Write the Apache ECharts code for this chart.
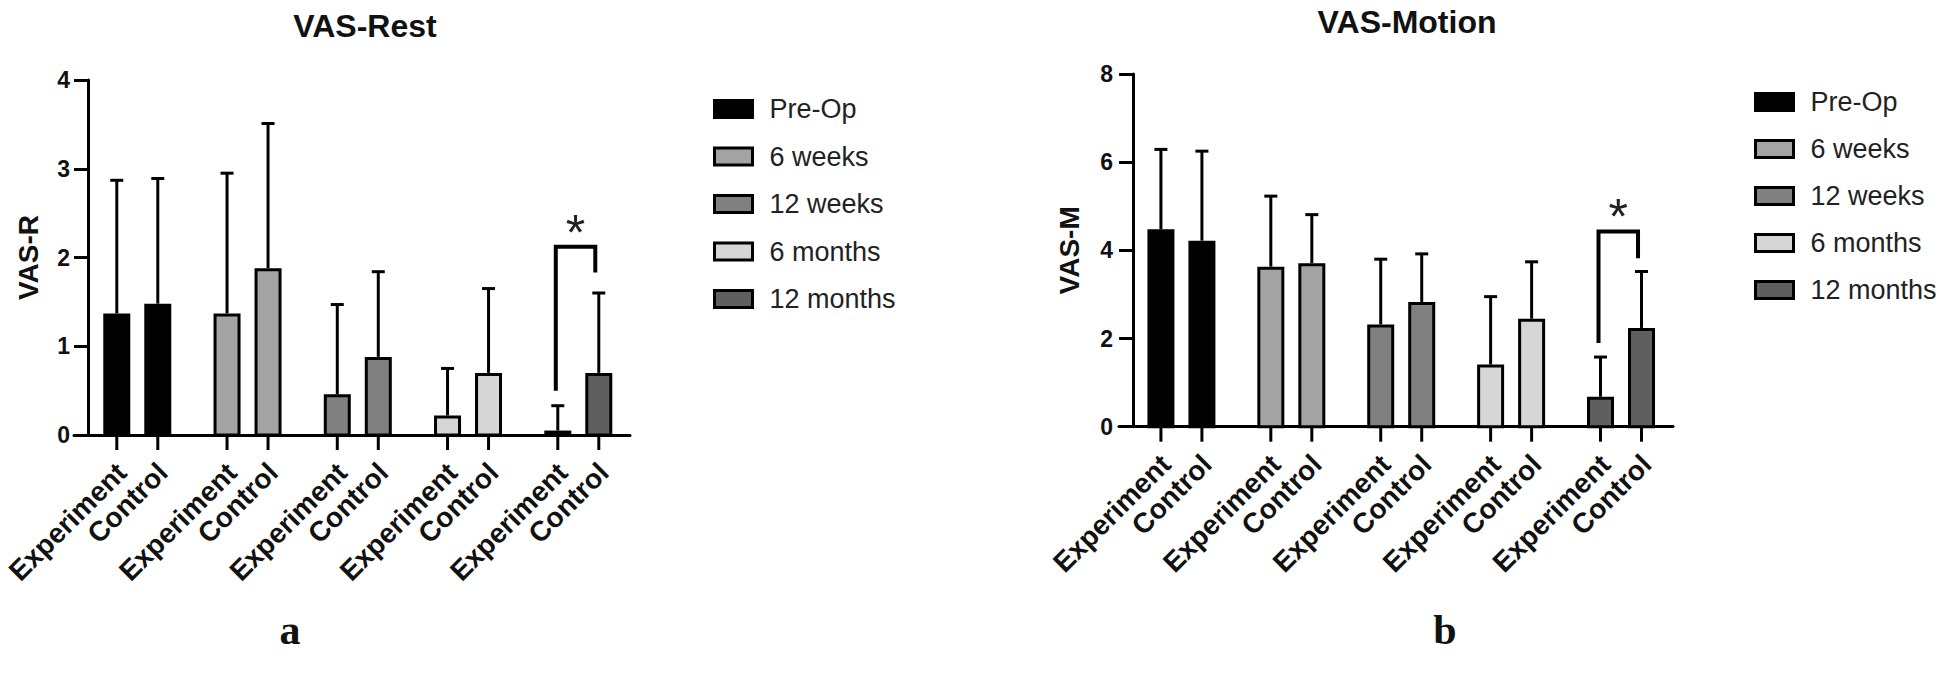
<!DOCTYPE html>
<html><head><meta charset="utf-8">
<script src="https://cdn.jsdelivr.net/npm/echarts@6/dist/echarts.min.js"></script>
<style>html,body{margin:0;padding:0;background:#fff}#c{width:1946px;height:681px}</style>
</head><body><div id="c"></div>
<script>
// ---------- data ----------
const groups = ['Pre-Op', '6 weeks', '12 weeks', '6 months', '12 months'];
const tickLabels = ['Experiment', 'Control'];
const groupColors = ['#000000', '#a3a3a3', '#808080', '#d6d6d6', '#5f5f5f'];

const restExpMean  = [1.37, 1.37, 0.46, 0.22, 0.05];
const restExpSD    = [1.50, 1.58, 1.01, 0.53, 0.28];
const restCtrlMean = [1.48, 1.88, 0.88, 0.70, 0.70];
const restCtrlSD   = [1.41, 1.63, 0.96, 0.95, 0.90];

const motionExpMean  = [4.48, 3.63, 2.32, 1.41, 0.68];
const motionExpSD    = [1.81, 1.60, 1.48, 1.54, 0.90];
const motionCtrlMean = [4.22, 3.71, 2.83, 2.45, 2.24];
const motionCtrlSD   = [2.03, 1.10, 1.09, 1.29, 1.28];

const restYTicks = [0, 1, 2, 3, 4];
const motionYTicks = [0, 2, 4, 6, 8];

// [group index, bracket top, left leg bottom, right leg bottom]
const restBracket = [4, 2.12, 0.50, 1.83];
const motionBracket = [4, 4.43, 1.90, 3.82];

// ---------- styling ----------
const FONT = '"Liberation Sans", Arial, Helvetica, sans-serif';
const BAR_OFF = 20.5, BAR_W = 24, CAP = 13;

function barRender(params, api) {
  const g = api.value(0), side = api.value(1), mean = api.value(2), sd = api.value(3);
  const base = api.coord([g, 0]);
  const xc = base[0] + (side === 0 ? -BAR_OFF : BAR_OFF);
  const y0 = base[1];
  const yTop = api.coord([g, mean])[1];
  const yErr = api.coord([g, mean + sd])[1];
  const color = api.visual('color');
  return {
    type: 'group',
    children: [
      { type: 'line', shape: { x1: xc, y1: yTop, x2: xc, y2: yErr }, style: { stroke: '#000', lineWidth: 3 } },
      { type: 'line', shape: { x1: xc - CAP / 2, y1: yErr, x2: xc + CAP / 2, y2: yErr }, style: { stroke: '#000', lineWidth: 3 } },
      { type: 'rect', shape: { x: xc - BAR_W / 2, y: yTop + 1.5, width: BAR_W, height: Math.max(y0 - yTop - 1.5, 0) },
        style: { fill: color, stroke: '#000', lineWidth: 3 } },
      { type: 'line', shape: { x1: xc, y1: y0, x2: xc, y2: y0 + 15 }, style: { stroke: '#000', lineWidth: 3 } },
      { type: 'text', x: xc - 5, y: y0 + 23, rotation: Math.PI / 4,
        style: { text: tickLabels[side], align: 'right', verticalAlign: 'top',
                 font: 'bold 28px ' + FONT, fill: '#111' } }
    ]
  };
}

function bracketRender(params, api) {
  const g = api.value(0), top = api.value(1), lb = api.value(2), rb = api.value(3);
  const base = api.coord([g, 0]);
  const xl = base[0] - 22.5, xr = base[0] + 17;
  const yt = api.coord([g, top])[1], yl = api.coord([g, lb])[1], yr = api.coord([g, rb])[1];
  return {
    type: 'group',
    children: [
      { type: 'polyline', shape: { points: [[xl, yl], [xl, yt], [xr, yt], [xr, yr]] },
        style: { stroke: '#000', lineWidth: 4, fill: null } },
      { type: 'text', x: (xl + xr) / 2, y: yt - 14,
        style: { text: '*', align: 'center', verticalAlign: 'middle', font: '50px ' + FONT, fill: '#222' } }
    ]
  };
}

function groupSeries(ci, expM, expS, ctlM, ctlS) {
  return groups.map((name, g) => ({
    type: 'custom', name: name, xAxisIndex: ci, yAxisIndex: ci,
    itemStyle: { color: groupColors[g] },
    renderItem: barRender,
    encode: { x: 0, y: 2 },
    data: [[g, 0, expM[g], expS[g]], [g, 1, ctlM[g], ctlS[g]]]
  }));
}

function yAxisCfg(ci, ticks, name, gap, margin) {
  return {
    gridIndex: ci, type: 'value', min: ticks[0], max: ticks[ticks.length - 1],
    interval: ticks[1] - ticks[0], offset: -14,
    name: name, nameLocation: 'middle', nameGap: gap,
    nameTextStyle: { fontSize: 28, fontWeight: 'bold', fontFamily: FONT, color: '#111' },
    axisLine: { show: true, onZero: false, lineStyle: { color: '#000', width: 3 } },
    axisTick: { show: true, length: 14, lineStyle: { color: '#000', width: 3 } },
    axisLabel: { fontSize: 23, fontWeight: 'bold', fontFamily: FONT, color: '#111', margin: margin },
    splitLine: { show: false }
  };
}

function xAxisCfg(ci, min, max) {
  return {
    gridIndex: ci, type: 'value', min: min, max: max,
    axisLine: { show: true, onZero: false, lineStyle: { color: '#000', width: 3 } },
    axisTick: { show: false }, axisLabel: { show: false }, splitLine: { show: false }
  };
}

function legendCfg(left, top, gap) {
  return {
    left: left, top: top, orient: 'vertical', icon: 'rect',
    itemWidth: 38, itemHeight: 17, itemGap: gap,
    textStyle: { fontSize: 27, fontFamily: FONT, color: '#222', lineHeight: 30, padding: [0, 0, 0, 12] },
    data: groups.map((n, i) => ({ name: n, itemStyle: { color: groupColors[i], borderColor: '#000', borderWidth: 3 } }))
  };
}

const chart = echarts.init(document.getElementById('c'), null, { renderer: 'svg' });
chart.setOption({
  animation: false,
  backgroundColor: '#fff',
  title: [
    { text: 'VAS-Rest', left: 360, top: 5, textAlign: 'center',
      textStyle: { fontSize: 32, fontWeight: 'bold', fontFamily: FONT, color: '#111' } },
    { text: 'VAS-Motion', left: 1402, top: 1, textAlign: 'center',
      textStyle: { fontSize: 32, fontWeight: 'bold', fontFamily: FONT, color: '#111' } },
    { text: 'a', left: 285, top: 604, textAlign: 'center',
      textStyle: { fontSize: 42, fontWeight: 'bold', fontFamily: '"Liberation Serif", "Times New Roman", serif', color: '#111' } },
    { text: 'b', left: 1440, top: 604, textAlign: 'center',
      textStyle: { fontSize: 42, fontWeight: 'bold', fontFamily: '"Liberation Serif", "Times New Roman", serif', color: '#111' } }
  ],
  legend: [legendCfg(708, 89, 17.5), legendCfg(1749, 82, 17)],
  grid: [
    { left: 74, top: 80, width: 556, height: 355 },
    { left: 1119, top: 74, width: 554, height: 352.7 }
  ],
  xAxis: [xAxisCfg(0, -0.574, 4.469), xAxisCfg(1, -0.568, 4.473)],
  yAxis: [yAxisCfg(0, restYTicks, 'VAS-R', 46, 18), yAxisCfg(1, motionYTicks, 'VAS-M', 50, 20)],
  series: [
    ...groupSeries(0, restExpMean, restExpSD, restCtrlMean, restCtrlSD),
    ...groupSeries(1, motionExpMean, motionExpSD, motionCtrlMean, motionCtrlSD),
    { type: 'custom', name: 'sig-rest', xAxisIndex: 0, yAxisIndex: 0, renderItem: bracketRender,
      encode: { x: 0, y: 1 }, data: [restBracket] },
    { type: 'custom', name: 'sig-motion', xAxisIndex: 1, yAxisIndex: 1, renderItem: bracketRender,
      encode: { x: 0, y: 1 }, data: [motionBracket] }
  ]
});
</script>
</body></html>
